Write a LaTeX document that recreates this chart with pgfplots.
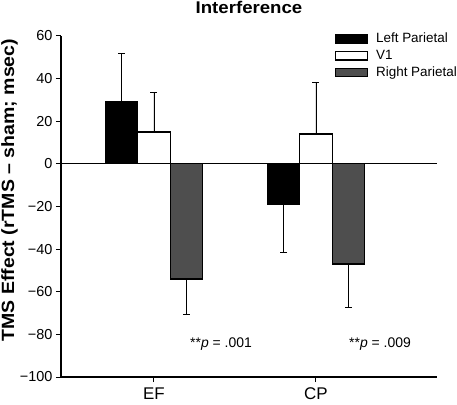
\documentclass[border=0pt]{standalone}
\usepackage{pgfplots}
\pgfplotsset{compat=1.18}
\usepackage{fontspec}
\setmainfont{Liberation Sans}
\newfontfamily\widefont[FakeStretch=1.1]{Liberation Sans}
\definecolor{rpgray}{RGB}{78,78,78}
\begin{document}
\begin{tikzpicture}
\begin{axis}[
  at={(0,0)}, anchor=south west,
  width=376bp, height=341bp, scale only axis,
  clip=false,
  xmin=-0.574, xmax=1.747, ymin=-100, ymax=60,
  axis x line=bottom, axis y line=left,
  axis line style={-, line width=1.1pt},
  xtick={0,1}, xticklabels={EF,CP},
  ytick={-100,-80,-60,-40,-20,0,20,40,60},
  yticklabels={−100,−80,−60,−40,−20,0,20,40,60},
  tick align=outside, major tick length=5bp,
  tick style={line width=1pt, black},
  x tick label style={font=\fontsize{17}{19}\selectfont, yshift=-2bp},
  y tick label style={font=\fontsize{14.5}{16}\selectfont},
  legend style={at={(rel axis cs:0.728,1.015)}, anchor=north west, draw=none, fill=none,
    font=\fontsize{13.5}{15}\selectfont, row sep=2bp, inner sep=0pt},
  legend cell align=left,
  legend image code/.code={\path (0bp,0bp) (38bp,0bp); \draw[#1, line width=1.1pt] (0bp,-4.3bp) rectangle (32bp,4.3bp);},
  error bars/error bar style={line width=0.9pt, black},
  error bars/error mark=-,
  error bars/error mark options={rotate=90, black, line width=0.9pt, mark size=3.5bp},
]
\addplot[ybar, bar width=0.2, bar shift=0, fill=black, draw=black, line width=1.2pt,
  error bars/.cd, y dir=both, y explicit]
  coordinates {(-0.2,29) += (0,23) -= (0,0) (0.8,-19) += (0,0) -= (0,22.5)};
\addlegendentry{Left Parietal}
\addplot[ybar, bar width=0.2, bar shift=0, fill=white, draw=black, line width=1.2pt,
  error bars/.cd, y dir=both, y explicit]
  coordinates {(0,15) += (0,18.5) -= (0,0) (1,14) += (0,24) -= (0,0)};
\addlegendentry{V1}
\addplot[ybar, bar width=0.2, bar shift=0, fill=rpgray, draw=black, line width=1.2pt,
  error bars/.cd, y dir=both, y explicit]
  coordinates {(0.2,-54) += (0,0) -= (0,16.5) (1.2,-47) += (0,0) -= (0,20.3)};
\addlegendentry{Right Parietal}
\addplot[black, line width=1pt, forget plot] coordinates {(-0.574,0) (1.747,0)};
\node[font=\fontsize{14}{16}\selectfont, anchor=base] at (axis cs:0.414,-86.3) {**\textit{p} = .001};
\node[font=\fontsize{14}{16}\selectfont, anchor=base] at (axis cs:1.395,-86.3) {**\textit{p} = .009};
\node[font=\widefont\bfseries\fontsize{17}{19}\selectfont, anchor=base] at (rel axis cs:0.5,1) [yshift=22.7bp] {Interference};
\node[font=\widefont\bfseries\fontsize{17.8}{19}\selectfont, anchor=base, rotate=90] at (axis cs:-0.864,-12.3) {TMS Effect (rTMS – sham; msec)};
\coordinate (sw) at (rel axis cs:0,0);
\coordinate (ne) at (rel axis cs:1,1);
\end{axis}
\pgfresetboundingbox
\path[use as bounding box] ([shift={(-61bp,-28bp)}]sw) rectangle ([shift={(20bp,36bp)}]ne);
\end{tikzpicture}
\end{document}
